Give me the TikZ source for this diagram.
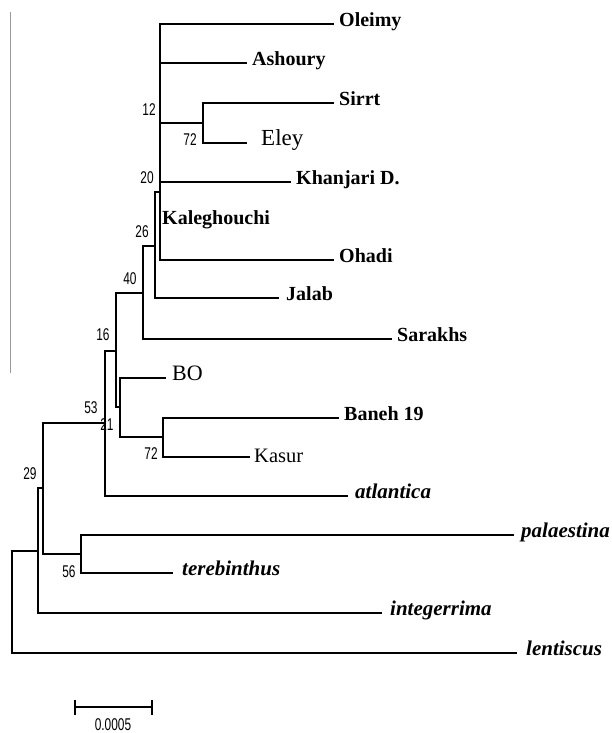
\documentclass[tikz,border=0pt]{standalone}
\usepackage{fontspec}
\setmainfont{Liberation Serif}
\newfontfamily\narrowsans[FakeStretch=0.7]{Liberation Sans}
\usepackage{tikz}
\usetikzlibrary{calc,positioning,arrows.meta}

\begin{document}
\begin{tikzpicture}[
  x=1pt, y=-1pt,
  branch/.style={line width=2pt, line cap=rect},
  leaf/.style={anchor=west, inner xsep=6pt, inner ysep=0pt, text height=.68em, text depth=.2em,
    font=\fontsize{20}{21}\selectfont\bfseries},
  plainleaf/.style={leaf, font=\fontsize{21}{22}\selectfont},
  species/.style={leaf, inner xsep=8pt, font=\fontsize{21}{22}\selectfont\bfseries\itshape},
  boot/.style={inner sep=0pt, font=\narrowsans\fontsize{17}{18}\selectfont},
  ]
  \useasboundingbox (0,0) rectangle (611,733);

  % stray rule on the left
  \coordinate (rule_top) at (10,12);
  \coordinate (rule_bot) at (10,373);
  \draw[gray!80, line width=.9pt] (rule_top) -- (rule_bot);

  % internal nodes
  \coordinate (n_root) at (12,551);
  \coordinate (n_29) at (38,551);
  \coordinate (n_53) at (43,488);
  \coordinate (n_56) at (81,554);
  \coordinate (n_21) at (105,423);
  \coordinate (n_16) at (116,351);
  \coordinate (n_bo) at (120,407);
  \coordinate (n_72b) at (163,437);
  \coordinate (n_40) at (143,293);
  \coordinate (n_26) at (155,246);
  \coordinate (n_20) at (160,192);
  \coordinate (n_72a) at (203,123);

  % leaves
  \node (oleimy) [leaf] at(333,24) {Oleimy};
  \node (ashoury) [leaf] at(246,63) {Ashoury};
  \node (sirrt) [leaf] at(333,103) {Sirrt};
  \node (eley) [plainleaf, inner xsep=15pt, font=\fontsize{23}{24}\selectfont] at(246,143) {Eley};
  \node (khanjari) [leaf] at(290,182) {Khanjari D.};
  \node (kaleghouchi) [leaf, inner xsep=2pt] at(160,222) {Kaleghouchi};
  \node (ohadi) [leaf] at(333,260) {Ohadi};
  \node (jalab) [leaf, inner xsep=8pt] at(278,298) {Jalab};
  \node (sarakhs) [leaf] at(391,339) {Sarakhs};
  \node (bo) [plainleaf, inner xsep=7pt, font=\fontsize{22}{23}\selectfont] at(165,378) {BO};
  \node (baneh) [leaf] at(338,418) {Baneh 19};
  \node (kasur) [plainleaf, inner xsep=5pt, yshift=-3pt, font=\fontsize{20.5}{21}\selectfont] at(249,457) {Kasur};
  \node (atlantica) [species] at(347,496) {atlantica};
  \node (palaestina) [species] at(513,535) {palaestina};
  \node (terebinthus) [species, inner xsep=10pt] at(172,573) {terebinthus};
  \node (integerrima) [species, inner xsep=9pt] at(381,613) {integerrima};
  \node (lentiscus) [species, inner xsep=10pt] at(516,653) {lentiscus};

  % branches
  \draw[branch] (n_root) -- (n_29) (n_root) |- (lentiscus.west);
  \draw[branch] (n_29) |- (n_53) (n_29) |- (integerrima.west);
  \draw[branch] (n_53) |- (n_21) (n_53) |- (n_56);
  \draw[branch] (n_56) |- (palaestina.west) (n_56) |- (terebinthus.west);
  \draw[branch] (n_21) |- (n_16) (n_21) |- (atlantica.west);
  \draw[branch] (n_16) |- (n_40) (n_16) |- (n_bo);
  \draw[branch] (n_bo) |- (bo.west) (n_bo) |- (n_72b);
  \draw[branch] (n_72b) |- (baneh.west) (n_72b) |- ([yshift=3pt]kasur.west);
  \draw[branch] (n_40) |- (n_26) (n_40) |- (sarakhs.west);
  \draw[branch] (n_26) |- (n_20) (n_26) |- (jalab.west);
  \draw[branch] (n_20) |- (oleimy.west) (n_20) |- (ashoury.west)
    (n_20) |- (n_72a) (n_20) |- (khanjari.west) (n_20) |- (ohadi.west);
  \draw[branch] (n_72a) |- (sirrt.west) (n_72a) |- (eley.west);

  % bootstrap values
  \foreach \v/\x/\y [count=\i] in {12/149/110, 72/190/140, 20/147/178, 26/142/232,
      40/130/279, 16/103/335, 53/91/408, 21/107/425, 72/151/454, 29/30/474, 56/69/572}
    \node (bs_\i) [boot] at(\x,\y) {\v};

  % scale bar
  \coordinate (sb_l) at (74,707);
  \coordinate (sb_r) at (153,707);
  \draw[line width=1.8pt, {Bar[width=15pt]}-{Bar[width=15pt]}] (sb_l) -- (sb_r);
  \node (sb_text) [boot] at(113,725) {0.0005};

\end{tikzpicture}
\end{document}
